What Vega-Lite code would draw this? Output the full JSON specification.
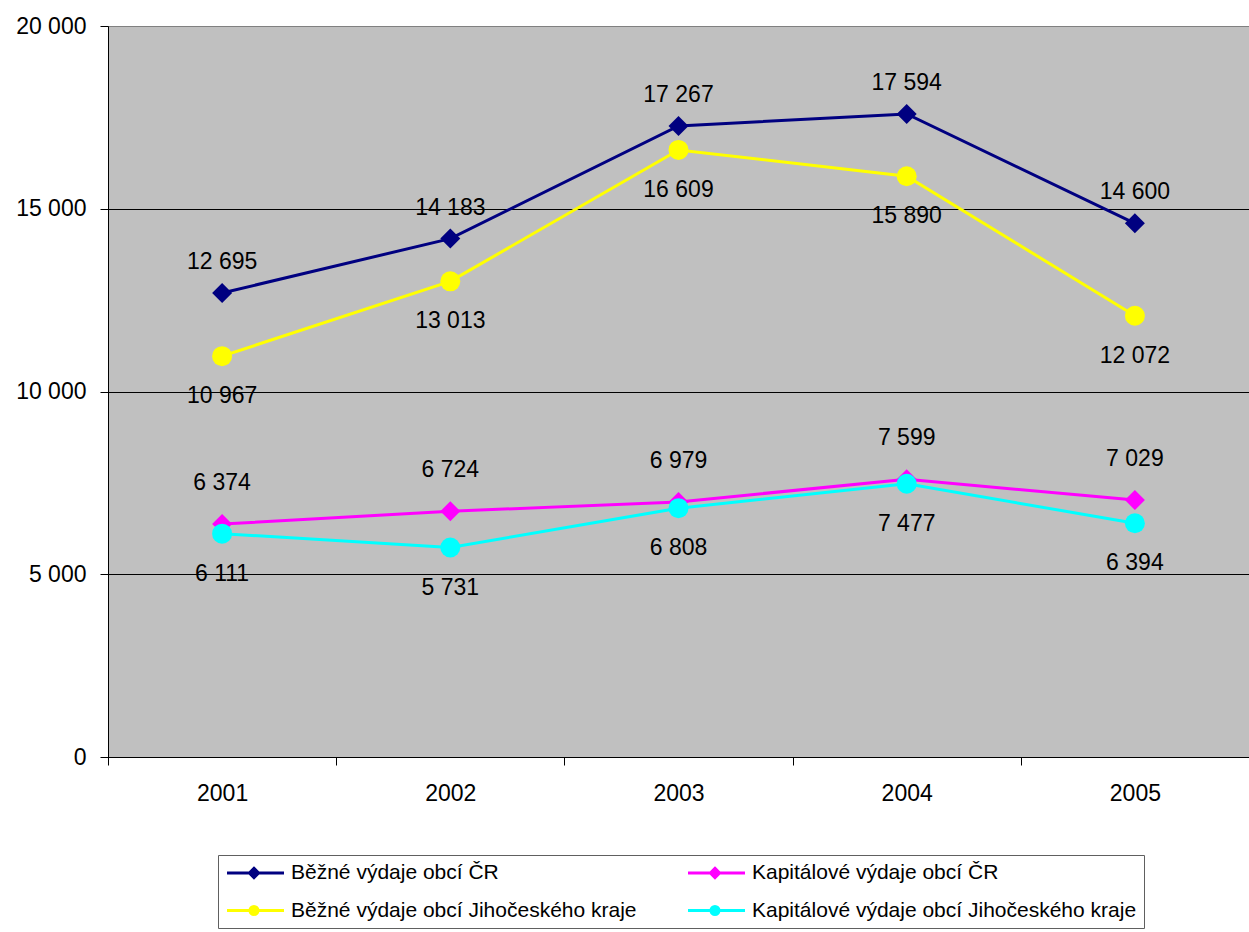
{
  "$schema": "https://vega.github.io/schema/vega-lite/v6.json",
  "width": 1141,
  "height": 731,
  "autosize": {"type": "none"},
  "padding": {"left": 108, "top": 26, "right": 0, "bottom": 175},
  "background": "white",
  "config": {
    "font": "Liberation Sans",
    "view": {"fill": "#C0C0C0", "stroke": "#808080", "strokeWidth": 1},
    "axis": {"domainColor": "black", "tickColor": "black", "labelColor": "black", "labelFontSize": 23, "labelFont": "Liberation Sans", "tickSize": 8, "title": null, "domainWidth": 1, "tickWidth": 1},
    "locale": {"number": {"decimal": ",", "thousands": " ", "grouping": [3], "currency": ["", " Kč"]}}
  },
  "data": {"values": [
    {"year": "2001", "series": "Běžné výdaje obcí ČR", "value": 12695},
    {"year": "2002", "series": "Běžné výdaje obcí ČR", "value": 14183},
    {"year": "2003", "series": "Běžné výdaje obcí ČR", "value": 17267},
    {"year": "2004", "series": "Běžné výdaje obcí ČR", "value": 17594},
    {"year": "2005", "series": "Běžné výdaje obcí ČR", "value": 14600},
    {"year": "2001", "series": "Kapitálové výdaje obcí ČR", "value": 6374},
    {"year": "2002", "series": "Kapitálové výdaje obcí ČR", "value": 6724},
    {"year": "2003", "series": "Kapitálové výdaje obcí ČR", "value": 6979},
    {"year": "2004", "series": "Kapitálové výdaje obcí ČR", "value": 7599},
    {"year": "2005", "series": "Kapitálové výdaje obcí ČR", "value": 7029},
    {"year": "2001", "series": "Běžné výdaje obcí Jihočeského kraje", "value": 10967},
    {"year": "2002", "series": "Běžné výdaje obcí Jihočeského kraje", "value": 13013},
    {"year": "2003", "series": "Běžné výdaje obcí Jihočeského kraje", "value": 16609},
    {"year": "2004", "series": "Běžné výdaje obcí Jihočeského kraje", "value": 15890},
    {"year": "2005", "series": "Běžné výdaje obcí Jihočeského kraje", "value": 12072},
    {"year": "2001", "series": "Kapitálové výdaje obcí Jihočeského kraje", "value": 6111},
    {"year": "2002", "series": "Kapitálové výdaje obcí Jihočeského kraje", "value": 5731},
    {"year": "2003", "series": "Kapitálové výdaje obcí Jihočeského kraje", "value": 6808},
    {"year": "2004", "series": "Kapitálové výdaje obcí Jihočeského kraje", "value": 7477},
    {"year": "2005", "series": "Kapitálové výdaje obcí Jihočeského kraje", "value": 6394}
  ]},
  "encoding": {
    "x": {"field": "year", "type": "ordinal", "scale": {"type": "band", "paddingInner": 0, "paddingOuter": 0},
      "axis": {"labelAngle": 0, "tickBand": "extent", "labelPadding": 17, "grid": false}},
    "y": {"field": "value", "type": "quantitative", "scale": {"domain": [0, 20000], "nice": false},
      "axis": {"values": [0, 5000, 10000, 15000, 20000], "format": ",d", "labelPadding": 14, "grid": true,
        "gridColor": {"condition": {"test": "datum.value === 20000", "value": "#808080"}, "value": "black"}, "gridWidth": 1}}
  },
  "layer": [
    {
      "mark": {"type": "line", "strokeWidth": 3, "opacity": 1},
      "encoding": {
        "color": {"field": "series", "type": "nominal", "legend": null,
          "scale": {"domain": ["Běžné výdaje obcí ČR", "Kapitálové výdaje obcí ČR", "Běžné výdaje obcí Jihočeského kraje", "Kapitálové výdaje obcí Jihočeského kraje"],
                    "range": ["#000080", "#FF00FF", "#FFFF00", "#00FFFF"]}}
      }
    },
    {
      "transform": [{"filter": "indexof(datum.series, 'ČR') >= 0"}],
      "mark": {"type": "point", "shape": "diamond", "filled": true, "size": 400, "opacity": 1},
      "encoding": {"color": {"field": "series", "type": "nominal", "legend": null}}
    },
    {
      "transform": [{"filter": "indexof(datum.series, 'Jihočeského') >= 0"}],
      "mark": {"type": "point", "shape": "circle", "filled": true, "size": 400, "opacity": 1},
      "encoding": {"color": {"field": "series", "type": "nominal", "legend": null}}
    },
    {
      "transform": [{"filter": "datum.series === 'Běžné výdaje obcí ČR'"}],
      "mark": {"type": "text", "fontSize": 23, "dy": -31, "color": "black", "font": "Liberation Sans"},
      "encoding": {"text": {"field": "value", "type": "quantitative", "format": ",d"}}
    },
    {
      "transform": [{"filter": "datum.series === 'Kapitálové výdaje obcí ČR'"}],
      "mark": {"type": "text", "fontSize": 23, "dy": -41, "color": "black", "font": "Liberation Sans"},
      "encoding": {"text": {"field": "value", "type": "quantitative", "format": ",d"}}
    },
    {
      "transform": [{"filter": "datum.series === 'Běžné výdaje obcí Jihočeského kraje'"}],
      "mark": {"type": "text", "fontSize": 23, "dy": 40, "color": "black", "font": "Liberation Sans"},
      "encoding": {"text": {"field": "value", "type": "quantitative", "format": ",d"}}
    },
    {
      "transform": [{"filter": "datum.series === 'Kapitálové výdaje obcí Jihočeského kraje'"}],
      "mark": {"type": "text", "fontSize": 23, "dy": 40, "color": "black", "font": "Liberation Sans"},
      "encoding": {"text": {"field": "value", "type": "quantitative", "format": ",d"}}
    },
    {
      "transform": [{"filter": "false"}],
      "mark": {"type": "point", "filled": true, "opacity": 1},
      "encoding": {
        "color": {"field": "series", "type": "nominal",
          "legend": {"title": null, "orient": "none", "legendX": 110, "legendY": 829, "columns": 2, "direction": "horizontal",
            "values": ["Běžné výdaje obcí ČR", "Kapitálové výdaje obcí ČR", "Běžné výdaje obcí Jihočeského kraje", "Kapitálové výdaje obcí Jihočeského kraje"],
            "padding": 7, "strokeColor": "#606060", "fillColor": "white",
            "labelFont": "Liberation Sans", "labelFontSize": 21, "labelColor": "black",
            "symbolSize": 196, "symbolStrokeWidth": 3, "symbolOpacity": 1, "labelOffset": 45,
            "columnPadding": 45, "rowPadding": 15, "labelLimit": 0,
            "encode": {"symbols": {"update": {"stroke": {"scale": "color", "field": "value"}, "fill": {"scale": "color", "field": "value"}, "strokeWidth": {"value": 3}, "opacity": {"value": 1}}}}}},
        "shape": {"field": "series", "type": "nominal",
          "scale": {"domain": ["Běžné výdaje obcí ČR", "Kapitálové výdaje obcí ČR", "Běžné výdaje obcí Jihočeského kraje", "Kapitálové výdaje obcí Jihočeského kraje"],
            "range": [
              "M-1.21,0H6.93M2.64,-0.65L3.29,0L2.64,0.65L1.99,0Z",
              "M-1.21,0H6.93M2.64,-0.65L3.29,0L2.64,0.65L1.99,0Z",
              "M-1.21,0H6.93M2.07,0A0.57,0.57 0 1,0 3.21,0A0.57,0.57 0 1,0 2.07,0Z",
              "M-1.21,0H6.93M2.07,0A0.57,0.57 0 1,0 3.21,0A0.57,0.57 0 1,0 2.07,0Z"
            ]}}
      }
    }
  ],
  "resolve": {"legend": {"color": "independent", "shape": "independent"}}
}
